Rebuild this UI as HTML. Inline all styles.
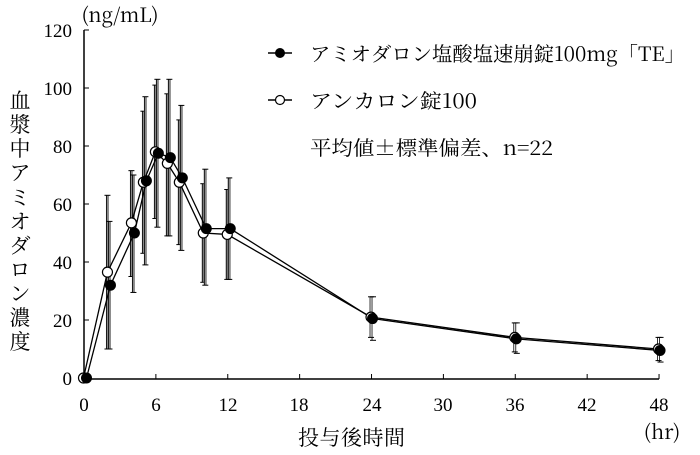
<!DOCTYPE html>
<html><head><meta charset="utf-8"><style>
body{margin:0;background:#fff}
svg text{font-family:"Liberation Serif","Noto Serif CJK SC",serif;fill:#000}
svg text.cj{font-family:"Noto Serif CJK SC","Liberation Serif",serif}
</style></head><body>
<svg width="700" height="450" viewBox="0 0 700 450" xmlns="http://www.w3.org/2000/svg">
<g id="plot"></g>
<text x="120" y="22" font-size="20" text-anchor="middle" class="cj">(ng/mL)</text>
<g font-size="19" text-anchor="end">
<text x="72" y="385">0</text><text x="72" y="327">20</text><text x="72" y="269">40</text>
<text x="72" y="211">60</text><text x="72" y="153">80</text><text x="72" y="95">100</text><text x="72" y="37">120</text>
</g>
<g font-size="19" text-anchor="middle">
<text x="84" y="411">0</text><text x="156" y="411">6</text><text x="228" y="411">12</text>
<text x="299" y="411">18</text><text x="372" y="411">24</text><text x="443" y="411">30</text>
<text x="515" y="411">36</text><text x="587" y="411">42</text><text x="659" y="411">48</text>
</g>
<text x="298" y="445" font-size="21" textLength="107" class="cj">投与後時間</text>
<text x="662" y="439" font-size="20" text-anchor="middle" class="cj">(hr)</text>
<g font-size="21" text-anchor="middle" class="cj">
<text x="20" y="108" class="cj">血</text><text x="20" y="132" class="cj">漿</text><text x="20" y="156" class="cj">中</text>
<text x="20" y="180" class="cj">ア</text><text x="20" y="205" class="cj">ミ</text><text x="20" y="229" class="cj">オ</text>
<text x="20" y="253" class="cj">ダ</text><text x="20" y="277" class="cj">ロ</text><text x="20" y="301" class="cj">ン</text>
<text x="20" y="325" class="cj">濃</text><text x="20" y="349" class="cj">度</text>
</g>
<line x1="268" y1="53" x2="292" y2="53" stroke="#000" stroke-width="1.5"/>
<circle cx="280" cy="53" r="5" fill="#000"/>
<line x1="268" y1="100" x2="292" y2="100" stroke="#000" stroke-width="1.5"/>
<circle cx="280" cy="100" r="4.5" fill="#fff" stroke="#000" stroke-width="1.2"/>
<text x="310" y="61" font-size="20" textLength="375" lengthAdjust="spacingAndGlyphs" class="cj">アミオダロン塩酸塩速崩錠100mg「TE」</text>
<text x="310" y="108" font-size="20" textLength="167" lengthAdjust="spacingAndGlyphs" class="cj">アンカロン錠100</text>
<text x="310" y="155" font-size="20" textLength="243" lengthAdjust="spacingAndGlyphs" class="cj">平均値±標準偏差、n=22</text>
</svg>
<script>
const g=document.getElementById('plot');
const X=t=>84+t*11.98, Y=v=>378-v*2.9;
let s='';
s+=`<line x1="84" y1="30" x2="84" y2="379" stroke="#000" stroke-width="1.5"/>`;
s+=`<line x1="84" y1="379" x2="659" y2="379" stroke="#000" stroke-width="1.5"/>`;
for(let v=0;v<=120;v+=20)s+=`<line x1="84" x2="89" y1="${Y(v)}" y2="${Y(v)}" stroke="#000"/>`;
for(let t=0;t<=48;t+=6)s+=`<line x1="${X(t)}" x2="${X(t)}" y1="379" y2="374" stroke="#000"/>`;
const F=[[0,0,0,0],[2,32,10,54],[4,50,29.5,70],[5,68,39,97],[6,77.5,52,103],[7,76,49,103],[8,69,44,94],[10,51.5,32,72],[12,51.5,34,69],[24,20.5,13,28],[36,13.5,8.5,19],[48,9.5,5.5,14]];
const O=[[0,0,0,0],[2,36.5,10,63],[4,53.5,35,71.5],[5,67.5,43,92],[6,78,55,101],[7,74,49,98],[8,67.5,46,89],[10,50,33,67],[12,49.5,34,65],[24,21,14,28],[36,14,9,19],[48,10,6,14]];
function err(d,off){d.forEach(p=>{if(p[0]==0)return;const x=X(p[0])+off;
if(p[0]<=12)s+=`<line x1="${x}" x2="${x}" y1="${Y(p[2])}" y2="${Y(p[3])}" stroke="#888" stroke-width="3"/>`;
s+=`<line x1="${x-1}" x2="${x-1}" y1="${Y(p[2])}" y2="${Y(p[3])}" stroke="#000" stroke-width="0.8"/>`;
s+=`<line x1="${x-3}" x2="${x+3}" y1="${Y(p[2])}" y2="${Y(p[2])}" stroke="#000"/>`;
s+=`<line x1="${x-3}" x2="${x+3}" y1="${Y(p[3])}" y2="${Y(p[3])}" stroke="#000"/>`;});}
err(O,-0.5);err(F,1.5);
const fo=t=>t<=12?2.5:1;
s+=`<polyline fill="none" stroke="#000" stroke-width="1.3" points="${O.map(p=>X(p[0])-0.5+','+Y(p[1])).join(' ')}"/>`;
s+=`<polyline fill="none" stroke="#000" stroke-width="1.3" points="${F.map(p=>(X(p[0])+fo(p[0]))+','+Y(p[1])).join(' ')}"/>`;
O.forEach(p=>s+=`<circle cx="${X(p[0])-0.5}" cy="${Y(p[1])}" r="5" fill="#fff" stroke="#000" stroke-width="1.2"/>`);
F.forEach(p=>s+=`<circle cx="${X(p[0])+fo(p[0])}" cy="${Y(p[1])}" r="5.5" fill="#000"/>`);
g.innerHTML=s;
</script>
</body></html>
